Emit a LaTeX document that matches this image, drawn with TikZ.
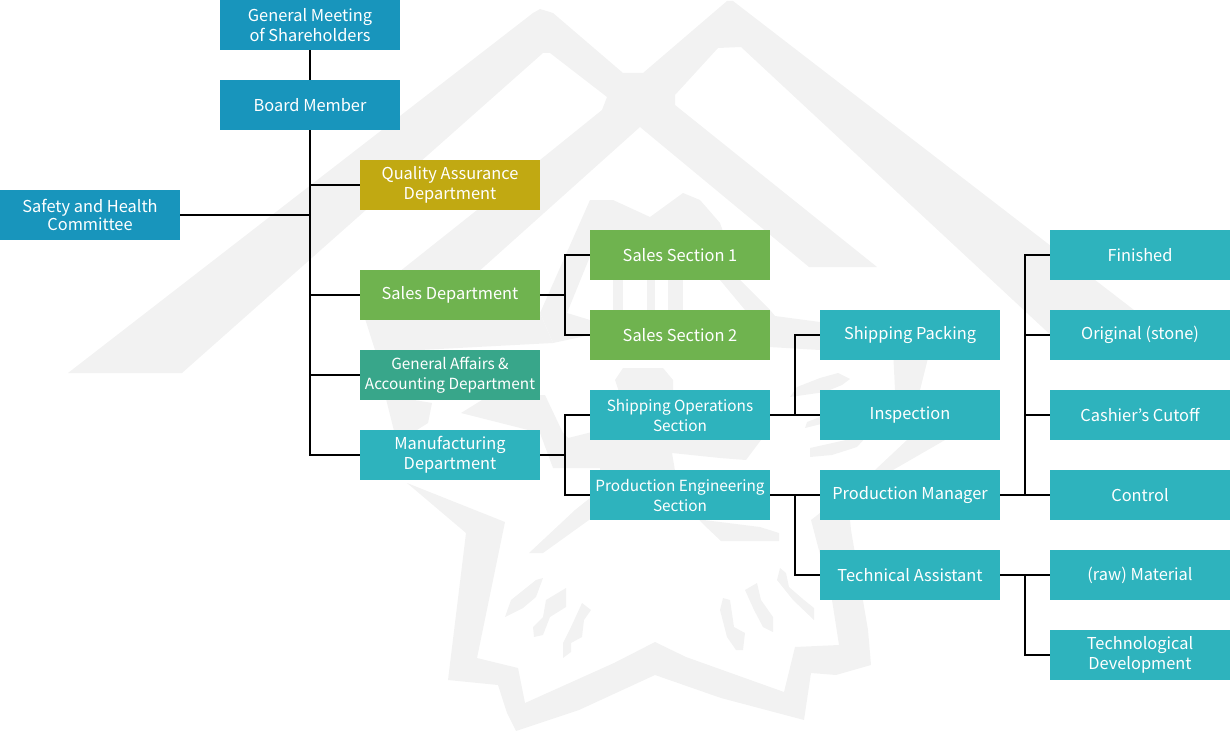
\documentclass[tikz,border=0pt]{standalone}
\usepackage{fontspec}
\setmainfont{Noto Sans CJK KR}
\definecolor{wm}{HTML}{F2F2F2}
\definecolor{cblue}{HTML}{1895BC}
\definecolor{cgold}{HTML}{C1A912}
\definecolor{cgreen}{HTML}{6FB34F}
\definecolor{cmint}{HTML}{38A68A}
\definecolor{cteal}{HTML}{2EB3BD}
\tikzset{
  orgbox/.style={rectangle,inner sep=0pt,minimum width=135pt,minimum height=37.5pt,text=white,align=center,font=\fontsize{12.3}{15}\selectfont},
  bluebox/.style={orgbox,fill=cblue},
  goldbox/.style={orgbox,fill=cgold},
  greenbox/.style={orgbox,fill=cgreen},
  mintbox/.style={orgbox,fill=cmint},
  tealbox/.style={orgbox,fill=cteal},
  link/.style={draw=black,line width=0.8pt},
  wmshape/.style={fill=wm,draw=none}
}
\newcommand{\lift}[2]{\raisebox{#1}{#2}}
\begin{document}
\begin{tikzpicture}[x=0.75pt,y=-0.75pt]
\useasboundingbox (0,0) rectangle (1230,731);
% watermark
\fill[wmshape] (68,373) -- (533,13) -- (540,9) -- (553,13) -- (623,73) -- (643,73) -- (727,1) -- (733,1) -- (1134,310) -- (1140,340) -- (1056,340) -- (741,47) -- (718,48) -- (675,95) -- (675,105) -- (877,267) -- (809,267) -- (640,127) -- (467,282) -- (540,313) -- (553,343) -- (420,350) -- (375,350) -- (360,303) -- (540,160) -- (602,110) -- (607,97) -- (550,53) -- (543,53) -- (182,373) -- cycle;
\fill[wmshape] (590,200) -- (613,200) -- (567,313) -- (590,320) -- (590,335) -- (553,343) -- (540,313) -- cycle;
\fill[wmshape] (600,200) -- (613,200) -- (650,217) -- (683,193) -- (700,200) -- (720,223) -- (740,280) -- (770,310) -- (775,316) -- (820,322) -- (820,350) -- (769,347) -- (745,340) -- (745,310) -- (720,280) -- (700,250) -- (600,250) -- cycle;
\fill[wmshape] (613,275) rectangle (623,315);
\fill[wmshape] (647,275) rectangle (655,315);
\fill[wmshape] (668,275) rectangle (683,315);
\fill[wmshape] (615,380) -- (623,368) -- (663,368) -- (673,380) -- (673,395) -- (620,395) -- cycle;
% star ring
\fill[wmshape] (407,483) -- (466,533) -- (448,680) -- (498,685) -- (507,713) -- (516,731) -- (579,710) -- (655,675) -- (721,698) -- (804,720) -- (811,673) -- (836,675) -- (871,665) -- (868,630) -- (851,530) -- (850,520) -- (893,470) -- (945,440) -- (920,390) -- (930,350) -- (893,350) -- (895,390) -- (907,440) -- (875,470) -- (811,520) -- (832,600) -- (839,645) -- (795,647) -- (784,692) -- (686,657) -- (655,642) -- (614,663) -- (525,703) -- (518,668) -- (477,658) -- (505,522) -- cycle;
% crescent
\fill[wmshape] (461,413) -- (490,395) -- (545,395) -- (563,433) -- (568,438) -- (600,430) -- (761,430) -- (761,440) -- (746,460) -- (720,458) -- (672,453) -- (680,500) -- (704,520) -- (760,527) -- (779,533) -- (779,541) -- (721,541) -- (704,525) -- (690,510) -- (600,510) -- (589,520) -- (543,553) -- (529,553) -- (575,510) -- (600,490) -- (600,468) -- (553,468) -- (540,433) -- cycle;
\fill[wmshape] (385,395) -- (432,403) -- (428,423) -- (417,430) -- (395,435) -- cycle;
% blobs
\fill[wmshape] (790,397) -- (797,387) -- (820,378) -- (838,373) -- (850,379) -- (842,385) -- (825,392) -- cycle;
\fill[wmshape] (810,457) -- (810,448) -- (837,442) -- (868,435) -- (857,447) -- (832,455) -- cycle;
\fill[wmshape] (805,428) -- (807,422) -- (825,415) -- (825,423) -- cycle;
% claw marks
\fill[wmshape] (505,617) -- (511,600) -- (536,580) -- (543,578) -- (536,597) -- (523,608) -- cycle;
\fill[wmshape] (534,637) -- (533,627) -- (543,617) -- (546,600) -- (566,588) -- (566,607) -- (550,617) -- (543,635) -- cycle;
\fill[wmshape] (563,658) -- (563,643) -- (571,627) -- (582,603) -- (591,610) -- (584,620) -- (582,637) -- (571,643) -- (571,652) -- cycle;
\fill[wmshape] (720,610) -- (723,598) -- (730,600) -- (734,627) -- (745,633) -- (743,650) -- (736,650) -- (727,637) -- cycle;
\fill[wmshape] (745,590) -- (757,583) -- (761,600) -- (773,617) -- (773,632) -- (763,627) -- (754,610) -- cycle;
\fill[wmshape] (777,580) -- (780,568) -- (786,573) -- (789,587) -- (804,600) -- (814,608) -- (814,620) -- (793,600) -- cycle;
% boxes
\node[bluebox] (gm) at (310,25) {General Meeting\\of Shareholders};
\node[bluebox] (board) at (310,105) {Board Member};
\node[goldbox] (qa) at (450,185) {Quality Assurance\\Department};
\node[bluebox,font=\fontsize{12.3}{13.5}\selectfont] (safety) at (90,215) {Safety and Health\\Committee};
\node[greenbox] (sales) at (450,295) {\lift{1.5pt}{Sales Department}};
\node[mintbox,font=\fontsize{11.5}{15}\selectfont] (ga) at (450,375) {General Affairs \&\\Accounting Department};
\node[tealbox] (mfg) at (450,455) {Manufacturing\\Department};
\node[greenbox] (s1) at (680,255) {Sales Section 1};
\node[greenbox] (s2) at (680,335) {Sales Section 2};
\node[tealbox,font=\fontsize{11.5}{15}\selectfont] (ops) at (680,415) {Shipping Operations\\Section};
\node[tealbox,font=\fontsize{11.5}{15}\selectfont] (pes) at (680,495) {Production Engineering\\Section};
\node[tealbox] (pack) at (910,335) {\lift{1.5pt}{Shipping Packing}};
\node[tealbox] (insp) at (910,415) {\lift{1.5pt}{Inspection}};
\node[tealbox] (pm) at (910,495) {\lift{1.5pt}{Production Manager}};
\node[tealbox] (tech) at (910,575) {Technical Assistant};
\node[tealbox] (fin) at (1140,255) {Finished};
\node[tealbox] (orig) at (1140,335) {\lift{1.5pt}{Original (stone)}};
\node[tealbox] (cash) at (1140,415) {Cashier\symbol{39}s Cutoff};
\node[tealbox] (ctrl) at (1140,495) {Control};
\node[tealbox] (raw) at (1140,575) {\lift{0.3pt}{(raw) Material}};
\node[tealbox] (dev) at (1140,655) {Technological\\Development};
% junctions
\coordinate (jsales) at (565,295);
\coordinate (jmfg) at (565,455);
\coordinate (jops) at (795,415);
\coordinate (jpes) at (795,495);
\coordinate (jpm) at (1025,495);
\coordinate (jtech) at (1025,575);
% connectors
\draw[link] (gm) -- (board);
\draw[link] (board.south) |- (mfg.west);
\draw[link] (board.south |- qa.west) -- (qa.west);
\draw[link] (safety.east) -- (safety.east -| board.south);
\draw[link] (board.south |- sales.west) -- (sales.west);
\draw[link] (board.south |- ga.west) -- (ga.west);
\draw[link] (sales.east) -- (jsales);
\draw[link] (s1.west) -| (jsales) |- (s2.west);
\draw[link] (mfg.east) -- (jmfg);
\draw[link] (ops.west) -| (jmfg) |- (pes.west);
\draw[link] (ops.east) -- (insp.west);
\draw[link] (pack.west) -| (jops);
\draw[link] (pes.east) -- (pm.west);
\draw[link] (jpes) |- (tech.west);
\draw[link] (pm.east) -- (ctrl.west);
\draw[link] (fin.west) -| (jpm);
\draw[link] (orig.west) -| (jpm);
\draw[link] (cash.west) -| (jpm);
\draw[link] (tech.east) -- (raw.west);
\draw[link] (jtech) |- (dev.west);
\end{tikzpicture}
\end{document}
